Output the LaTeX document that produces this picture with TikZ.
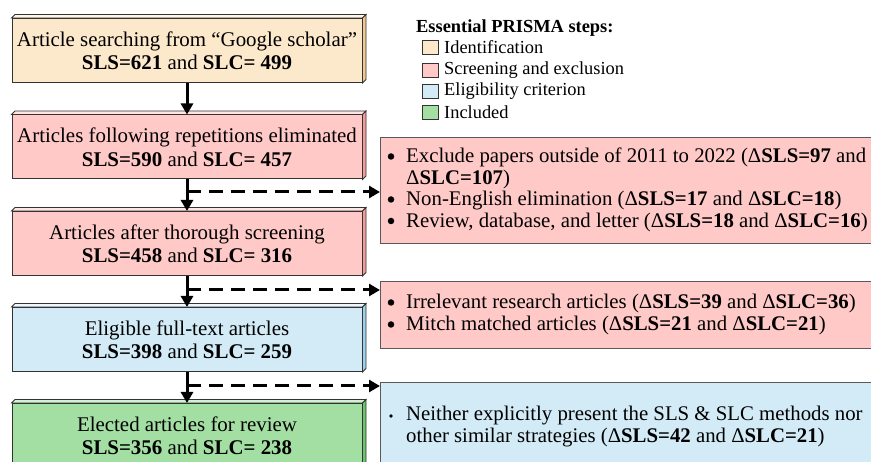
\documentclass[tikz,border=0pt]{standalone}
\usepackage{fontspec}
\setmainfont{Liberation Serif}
\usetikzlibrary{arrows.meta}
\definecolor{cpeach}{HTML}{FCE8CB}
\definecolor{cpeachS}{HTML}{EFC98F}
\definecolor{cpeachT}{HTML}{FFF6EA}
\definecolor{cpink}{HTML}{FFC9C7}
\definecolor{cpinkS}{HTML}{F29C9A}
\definecolor{cpinkT}{HTML}{FFE6E5}
\definecolor{cblue}{HTML}{D2EBF7}
\definecolor{cblueS}{HTML}{9FCFEA}
\definecolor{cblueT}{HTML}{EEF8FD}
\definecolor{cgreen}{HTML}{A3DFA3}
\definecolor{cgreenS}{HTML}{6CC46C}
\definecolor{cgreenT}{HTML}{D2F0D2}
\definecolor{cborder}{HTML}{333333}
\newcommand\bevelbox[3]{%
  \fill[#2,draw=cborder,line width=0.8pt] (#1.north west) -- ++(3.5,-3.5) -- ([xshift=3.5pt,yshift=3.5pt]#1.north east) -- (#1.north east) -- cycle;
  \fill[#3,draw=cborder,line width=0.8pt] (#1.north east) -- ([xshift=3.5pt,yshift=3.5pt]#1.north east) -- ([xshift=3.5pt,yshift=3.5pt]#1.south east) -- (#1.south east) -- cycle;}
\begin{document}
\begin{tikzpicture}[x=1pt,y=-1pt,
  lbox/.style={draw=cborder,line width=1pt,minimum width=350pt,minimum height=64pt,inner sep=0pt,align=center,font=\fontsize{20.9}{23.5}\selectfont},
  rbox/.style={draw=black!65,line width=1.2pt,anchor=north west,minimum width=520pt,inner sep=0pt},
  rtxt/.style={anchor=base west,inner sep=0pt,font=\fontsize{20.8}{22}\selectfont},
  bul/.style={circle,fill=black,inner sep=0pt,minimum size=6.5pt},
  smallbul/.style={circle,fill=black,inner sep=0pt,minimum size=3.8pt},
  legtxt/.style={anchor=west,inner sep=0pt,font=\fontsize{18.4}{20}\selectfont},
  legsq/.style={draw=cborder,line width=0.9pt,minimum width=16pt,minimum height=14pt,inner sep=0pt},
  solidarrow/.style={line width=3pt,-{Triangle[length=11pt,width=12pt]}},
  dasharrow/.style={line width=3pt,dash pattern=on 14pt off 8pt,-{Triangle[length=11pt,width=12pt]}}]
\useasboundingbox (0,0) rectangle (871,462);
\clip (0,0) rectangle (871,462);
% left column
\node[lbox,fill=cpeach] (b1) at (187,50.5) {Article searching from “Google scholar”\\\textbf{SLS=621} and \textbf{SLC= 499}};
\bevelbox{b1}{cpeachT}{cpeachS}
\node[lbox,fill=cpink] (b2) at (187,147) {Articles following repetitions eliminated\\\textbf{SLS=590} and \textbf{SLC= 457}};
\bevelbox{b2}{cpinkT}{cpinkS}
\node[lbox,fill=cpink] (b3) at (187,243.5) {Articles after thorough screening\\\textbf{SLS=458} and \textbf{SLC= 316}};
\bevelbox{b3}{cpinkT}{cpinkS}
\node[lbox,fill=cblue] (b4) at (187,339.5) {Eligible full-text articles\\\textbf{SLS=398} and \textbf{SLC= 259}};
\bevelbox{b4}{cblueT}{cblueS}
\node[lbox,fill=cgreen] (b5) at (187,435.5) {Elected articles for review\\\textbf{SLS=356} and \textbf{SLC= 238}};
\bevelbox{b5}{cgreenT}{cgreenS}
% right boxes
\node[rbox,fill=cpink,minimum height=106pt] (r1) at (380,137) {};
\node[rbox,fill=cpink,minimum height=67pt] (r2) at (380,281) {};
\node[rbox,fill=cblue,minimum height=90pt] (r3) at (380,382) {};
% right texts
\node[bul] (r1b1) at (391,156.5) {};
\node[rtxt] (r1t1) at (406,163) {Exclude papers outside of 2011 to 2022 (Δ\textbf{SLS=97} and};
\node[rtxt] (r1t2) at (406,184.5) {Δ\textbf{SLC=107})};
\node[bul] (r1b3) at (391,199.5) {};
\node[rtxt] (r1t3) at (406,206) {Non-English elimination (Δ\textbf{SLS=17} and Δ\textbf{SLC=18})};
\node[bul] (r1b4) at (391,221) {};
\node[rtxt] (r1t4) at (406,227.5) {Review, database, and letter (Δ\textbf{SLS=18} and Δ\textbf{SLC=16})};
\node[bul] (r2b1) at (391,302.5) {};
\node[rtxt] (r2t1) at (406,309) {Irrelevant research articles (Δ\textbf{SLS=39} and Δ\textbf{SLC=36})};
\node[bul] (r2b2) at (391,324.5) {};
\node[rtxt] (r2t2) at (406,331) {Mitch matched articles (Δ\textbf{SLS=21} and Δ\textbf{SLC=21})};
\node[smallbul] (r3b1) at (391,416) {};
\node[rtxt] (r3t1) at (406,421) {Neither explicitly present the SLS \& SLC methods nor};
\node[rtxt] (r3t2) at (406,443) {other similar strategies (Δ\textbf{SLS=42} and Δ\textbf{SLC=21})};
% arrows
\draw[solidarrow] (b1.south) -- (b2.north);
\draw[solidarrow] (b2.south) -- (b3.north);
\draw[solidarrow] (b3.south) -- (b4.north);
\draw[solidarrow] (b4.south) -- (b5.north);
\coordinate (d1) at (187,192);
\coordinate (d2) at (187,290);
\coordinate (d3) at (187,386);
\draw[dasharrow] (d1) -- (r1.west |- d1);
\draw[dasharrow] (d2) -- (r2.west |- d2);
\draw[dasharrow] (d3) -- (r3.west |- d3);
% legend
\node[legtxt,font=\fontsize{18.4}{20}\selectfont\bfseries] (lt) at (416,28) {Essential PRISMA steps:};
\node[legsq,fill=cpeach] (s1) at (430,47) {};
\node[legtxt] (l1) at (444,47) {Identification};
\node[legsq,fill=cpink] (s2) at (430,70) {};
\node[legtxt] (l2) at (444,70) {Screening and exclusion};
\node[legsq,fill=cblue] (s3) at (430,91) {};
\node[legtxt] (l3) at (444,91) {Eligibility criterion};
\node[legsq,fill=cgreen] (s4) at (430,112) {};
\node[legtxt] (l4) at (444,112) {Included};
\end{tikzpicture}
\end{document}
